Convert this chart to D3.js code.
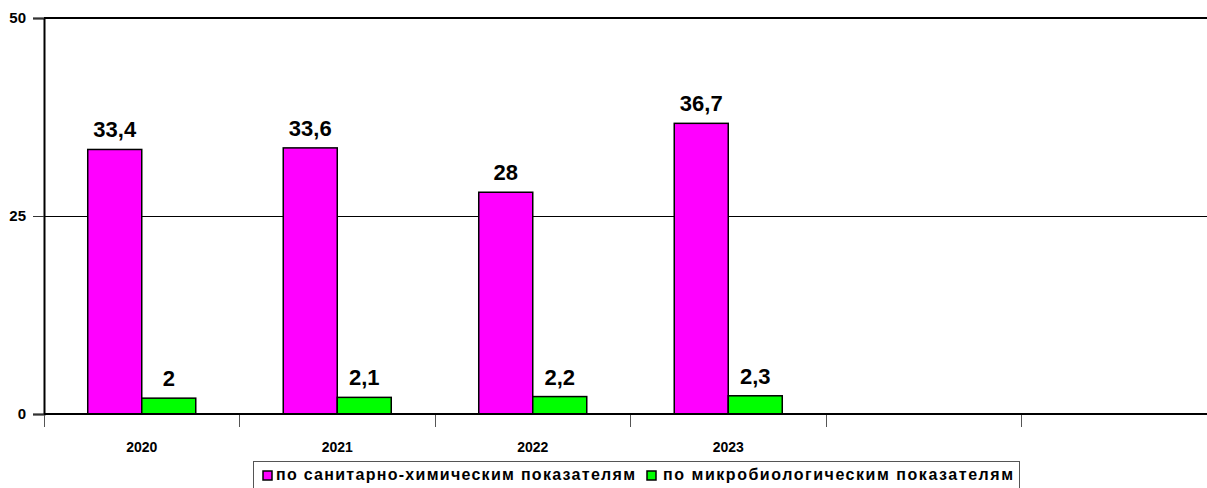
<!DOCTYPE html>
<html>
<head>
<meta charset="utf-8">
<script src="https://cdn.jsdelivr.net/npm/d3@7"></script>
<style>
  body { margin: 0; background: #fff; }
  text { font-family: Arial, "Liberation Sans", sans-serif; font-weight: bold; }
  line { shape-rendering: crispEdges; }
</style>
</head>
<body>
<div id="chart"></div>
<script>
// data
const years = ['2020', '2021', '2022', '2023']
const emptySlots = ['_a', '_b'] // two empty categories on the right
const chemValues = [33.4, 33.6, 28, 36.7]
const microValues = [2, 2.1, 2.2, 2.3]
const seriesNames = ['по санитарно-химическим показателям', 'по микробиологическим показателям']
const seriesColors = ['#ff00ff', '#00ff00']
const yTicks = [0, 25, 50]

const WIDTH = 1207
const HEIGHT = 488
const plot = { left: 44, top: 18, bottom: 414, right: 1217 }

const svg = d3.select('#chart').append('svg')
  .attr('width', WIDTH)
  .attr('height', HEIGHT)

const slots = years.concat(emptySlots)

const x = d3.scaleBand()
  .domain(slots)
  .range([plot.left, plot.right])

const x1 = d3.scaleBand()
  .domain(seriesNames)
  .range([0, x.bandwidth()])
  .paddingOuter(0.81)

const y = d3.scaleLinear()
  .domain([0, 50])
  .range([plot.bottom, plot.top])

// gridline at 25
svg.append('g')
  .selectAll('line')
  .data(yTicks.filter(d => d > 0 && d < 50))
  .enter().append('line')
  .attr('x1', plot.left).attr('x2', WIDTH)
  .attr('y1', d => y(d) + 0.5).attr('y2', d => y(d) + 0.5)
  .attr('stroke', '#000').attr('stroke-width', 1)

// top border
svg.append('line')
  .attr('x1', plot.left).attr('x2', WIDTH)
  .attr('y1', y(50)).attr('y2', y(50))
  .attr('stroke', '#000').attr('stroke-width', 2)

// bars
const rows = years.map((yr, i) => ({ year: yr, values: [chemValues[i], microValues[i]] }))

const groups = svg.append('g')
  .selectAll('g')
  .data(rows)
  .enter().append('g')
  .attr('transform', d => `translate(${x(d.year)},0)`)

groups.selectAll('rect')
  .data(d => d.values.map((v, k) => ({ v, k })))
  .enter().append('rect')
  .attr('x', d => x1(seriesNames[d.k]))
  .attr('y', d => y(d.v))
  .attr('width', x1.bandwidth())
  .attr('height', d => y(0) - y(d.v))
  .attr('fill', d => seriesColors[d.k])
  .attr('stroke', '#000')
  .attr('stroke-width', 1.5)

groups.selectAll('text')
  .data(d => d.values.map((v, k) => ({ v, k })))
  .enter().append('text')
  .attr('x', d => x1(seriesNames[d.k]) + x1.bandwidth() / 2)
  .attr('y', d => y(d.v) - 12)
  .attr('text-anchor', 'middle')
  .attr('font-size', 22)
  .attr('fill', '#000')
  .text(d => String(d.v).replace('.', ','))

// y axis
const yAxis = svg.append('g')
  .attr('transform', `translate(${plot.left},0)`)
  .call(d3.axisLeft(y).tickValues(yTicks).tickSize(11).tickPadding(7))
yAxis.select('.domain').attr('stroke', '#000').attr('stroke-width', 2)
yAxis.selectAll('.tick line').attr('stroke', '#333')
yAxis.selectAll('.tick text').attr('font-size', 15).attr('fill', '#000')
  .style('font-family', 'Arial, "Liberation Sans", sans-serif').style('font-weight', 'bold')

// x axis: labels at centers, ticks at slot boundaries
const xAxis = svg.append('g')
  .attr('transform', `translate(0,${plot.bottom})`)
  .call(d3.axisBottom(x).tickSize(0).tickPadding(28)
    .tickFormat(d => years.includes(d) ? d : ''))
xAxis.select('.domain').remove()
xAxis.selectAll('.tick text').attr('font-size', 14).attr('fill', '#000')
  .style('font-family', 'Arial, "Liberation Sans", sans-serif').style('font-weight', 'bold')

svg.append('g')
  .selectAll('line')
  .data(slots)
  .enter().append('line')
  .attr('x1', d => x(d)).attr('x2', d => x(d))
  .attr('y1', plot.bottom).attr('y2', plot.bottom + 13)
  .attr('stroke', '#555').attr('stroke-width', 1)

svg.append('line')
  .attr('x1', plot.left).attr('x2', WIDTH)
  .attr('y1', plot.bottom).attr('y2', plot.bottom)
  .attr('stroke', '#000').attr('stroke-width', 2)

// legend
const legend = svg.append('g')
legend.append('rect')
  .attr('x', 253.5).attr('y', 461.5)
  .attr('width', 766).attr('height', 40)
  .attr('fill', '#fff').attr('stroke', '#555').attr('stroke-width', 1)

const legendItems = [
  { sx: 263, tx: 276, w: 359 },
  { sx: 647, tx: 663, w: 350 }
]
legendItems.forEach((it, i) => {
  legend.append('rect')
    .attr('x', it.sx).attr('y', 471)
    .attr('width', 9).attr('height', 9)
    .attr('fill', seriesColors[i]).attr('stroke', '#000').attr('stroke-width', 1.5)
  legend.append('text')
    .attr('x', it.tx).attr('y', 480)
    .attr('font-size', 16)
    .attr('fill', '#000')
    .attr('textLength', it.w)
    .attr('lengthAdjust', 'spacing')
    .text(seriesNames[i])
})
</script>
</body>
</html>
